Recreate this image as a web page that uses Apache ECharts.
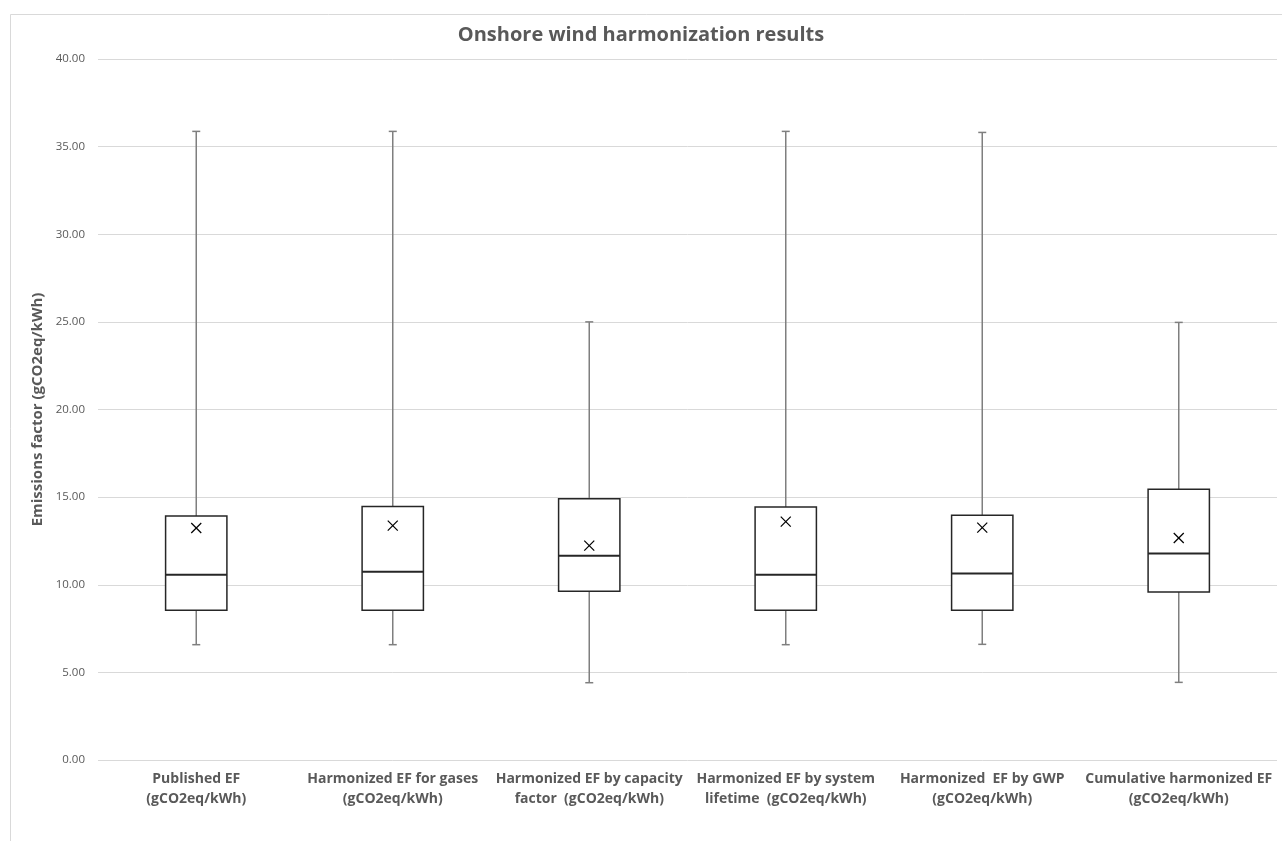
<!DOCTYPE html>
<html>
<head>
<meta charset="utf-8">
<script src="https://cdn.jsdelivr.net/npm/echarts@6/dist/echarts.min.js"></script>
<style>
html,body{margin:0;padding:0;background:#fff;}
#chart{width:1282px;height:841px;}
</style>
</head>
<body>
<div id="chart"></div>
<script>
const categories = [
  'Published EF\n(gCO2eq/kWh)',
  'Harmonized EF for gases\n(gCO2eq/kWh)',
  'Harmonized EF by capacity\nfactor  (gCO2eq/kWh)',
  'Harmonized EF by system\nlifetime  (gCO2eq/kWh)',
  'Harmonized  EF by GWP\n(gCO2eq/kWh)',
  'Cumulative harmonized EF\n(gCO2eq/kWh)'
];
const minVals    = [6.58, 6.58, 4.41, 6.58, 6.60, 4.43];
const q1Vals     = [8.55, 8.55, 9.63, 8.55, 8.55, 9.59];
const medianVals = [10.57, 10.74, 11.65, 10.57, 10.64, 11.78];
const q3Vals     = [13.92, 14.47, 14.91, 14.44, 13.96, 15.45];
const maxVals    = [35.87, 35.87, 25.00, 35.87, 35.81, 24.97];
const meanVals   = [13.24, 13.37, 12.23, 13.60, 13.26, 12.67];
const yTicks = { min: 0, max: 40, interval: 5 };

const boxData = categories.map((c, i) => [i, minVals[i], q1Vals[i], medianVals[i], q3Vals[i], maxVals[i], meanVals[i]]);

const FONT = '"Open Sans", Lato, sans-serif';
const TXT = '#595959';

function renderItem(params, api) {
  const i = api.value(0);
  const pMin = api.coord([i, api.value(1)]);
  const pQ1 = api.coord([i, api.value(2)]);
  const pMed = api.coord([i, api.value(3)]);
  const pQ3 = api.coord([i, api.value(4)]);
  const pMax = api.coord([i, api.value(5)]);
  const pMean = api.coord([i, api.value(6)]);
  const band = api.size([1, 0])[0];
  const hw = band * 0.156;
  const cx = pMed[0];
  const cap = 4;
  const m = 5;
  const whisker = { stroke: '#7f7f7f', lineWidth: 1.5, fill: null };
  return {
    type: 'group',
    children: [
      { type: 'line', shape: { x1: cx, y1: pQ3[1], x2: cx, y2: pMax[1] }, style: whisker },
      { type: 'line', shape: { x1: cx - cap, y1: pMax[1], x2: cx + cap, y2: pMax[1] }, style: whisker },
      { type: 'line', shape: { x1: cx, y1: pQ1[1], x2: cx, y2: pMin[1] }, style: whisker },
      { type: 'line', shape: { x1: cx - cap, y1: pMin[1], x2: cx + cap, y2: pMin[1] }, style: whisker },
      { type: 'rect', shape: { x: cx - hw, y: pQ3[1], width: hw * 2, height: pQ1[1] - pQ3[1] },
        style: { fill: '#ffffff', stroke: '#262626', lineWidth: 1.5 } },
      { type: 'line', shape: { x1: cx - hw, y1: pMed[1], x2: cx + hw, y2: pMed[1] },
        style: { stroke: '#262626', lineWidth: 2 } },
      { type: 'line', shape: { x1: pMean[0] - m, y1: pMean[1] - m, x2: pMean[0] + m, y2: pMean[1] + m },
        style: { stroke: '#000', lineWidth: 1.2 } },
      { type: 'line', shape: { x1: pMean[0] - m, y1: pMean[1] + m, x2: pMean[0] + m, y2: pMean[1] - m },
        style: { stroke: '#000', lineWidth: 1.2 } }
    ]
  };
}

const chart = echarts.init(document.getElementById('chart'), null, { renderer: 'canvas' });
chart.setOption({
  backgroundColor: '#ffffff',
  animation: false,
  graphic: [{
    type: 'rect', left: 8, top: 12, shape: { width: 1300, height: 900 },
    style: { fill: null, stroke: '#d9d9d9', lineWidth: 1 }, silent: true, z: -10
  }],
  title: {
    text: 'Onshore wind harmonization results',
    left: 'center', top: 20,
    textStyle: { fontFamily: FONT, fontSize: 20, fontWeight: 'bold', color: TXT }
  },
  grid: { left: 98, right: 5, top: 59, bottom: 81, containLabel: false },
  xAxis: {
    type: 'category',
    data: categories,
    axisLine: { show: false },
    axisTick: { show: false },
    splitLine: { show: false },
    axisLabel: {
      interval: 0, margin: 9, fontFamily: FONT, fontSize: 14, fontWeight: 'bold',
      color: TXT, lineHeight: 20, align: 'center'
    }
  },
  yAxis: {
    type: 'value',
    min: yTicks.min, max: yTicks.max, interval: yTicks.interval,
    name: 'Emissions factor (gCO2eq/kWh)',
    nameLocation: 'middle', nameGap: 52, nameRotate: 90,
    nameTextStyle: { fontFamily: FONT, fontSize: 15, fontWeight: 'bold', color: TXT },
    axisLine: { show: false },
    axisTick: { show: false },
    axisLabel: {
      margin: 13, fontFamily: FONT, fontSize: 11.5, color: TXT,
      formatter: v => v.toFixed(2)
    },
    splitLine: { lineStyle: { color: '#d9d9d9', width: 1 } }
  },
  series: [{
    type: 'custom',
    renderItem: renderItem,
    data: boxData,
    encode: { x: 0, y: [1, 2, 3, 4, 5, 6] },
    clip: false
  }]
});
</script>
</body>
</html>
